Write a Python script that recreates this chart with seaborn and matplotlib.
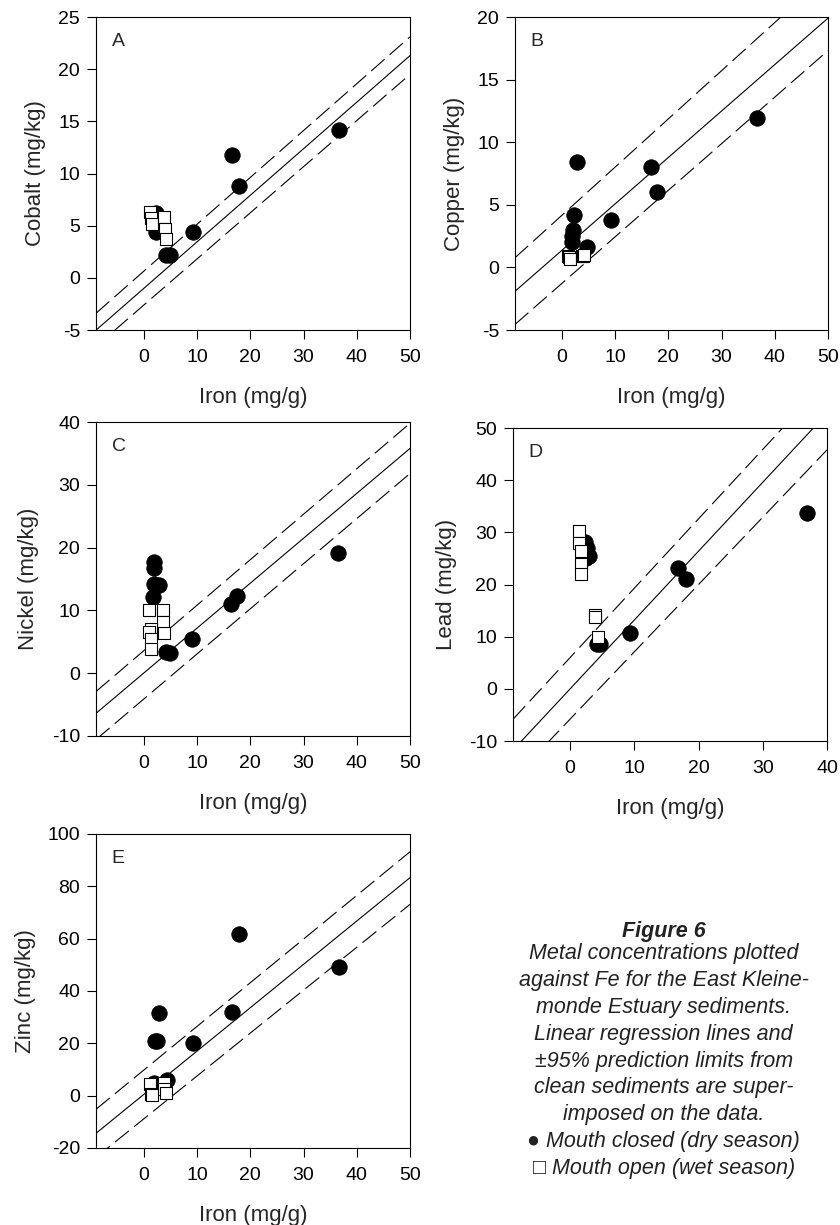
import numpy as np
import seaborn as sns
import matplotlib
matplotlib.use("Agg")
import matplotlib.pyplot as plt

# Daten: Fe (mg/g) und Metall (mg/kg), geschlossen (Trockenzeit) / offen (Regenzeit)
co_closed_fe = [2.2, 2.0, 2.2, 4.1, 4.9, 9.3, 16.6, 17.8, 36.6]
co_closed = [6.2, 5.4, 4.4, 2.2, 2.2, 4.4, 11.8, 8.8, 14.2]
co_open_fe = [1.2, 1.3, 1.5, 3.7, 3.9, 4.1]
co_open = [6.3, 5.7, 5.2, 5.8, 4.7, 3.7]

cu_closed_fe = [36.7, 16.7, 17.9, 9.3, 2.9, 2.3, 2.1, 2.0, 1.9, 4.7]
cu_closed = [11.9, 8.0, 6.0, 3.8, 8.4, 4.15, 3.0, 2.5, 2.0, 1.6]
cu_open_fe = [1.2, 1.3, 1.5, 3.7, 4.0, 4.1]
cu_open = [0.9, 0.8, 0.7, 0.9, 0.9, 1.0]

ni_closed_fe = [1.9, 1.9, 1.9, 2.9, 1.75, 4.1, 4.9, 9.1, 16.3, 17.5, 36.5]
ni_closed = [17.7, 16.7, 14.2, 14.0, 12.2, 3.3, 3.2, 5.4, 11.0, 12.3, 19.1]
ni_open_fe = [1.0, 3.6, 3.5, 1.25, 1.0, 3.8, 1.25, 1.25]
ni_open = [10.1, 10.0, 8.2, 7.1, 6.6, 6.45, 5.4, 3.8]

pb_closed_fe = [2.3, 2.6, 3.0, 2.5, 4.2, 4.7, 9.4, 16.8, 18.0, 36.9]
pb_closed = [28.2, 27.0, 25.5, 25.0, 8.6, 8.5, 10.7, 23.1, 21.1, 33.7]
pb_open_fe = [1.35, 1.4, 1.7, 1.7, 1.7, 3.85, 3.9, 4.3]
pb_open = [30.3, 27.9, 26.5, 23.9, 22.0, 14.2, 13.7, 9.9]

zn_closed_fe = [17.8, 36.6, 2.9, 16.6, 2.06, 2.4, 9.25, 1.9, 4.4]
zn_closed = [61.8, 49.1, 31.7, 32.1, 20.9, 20.9, 20.3, 5.0, 6.0]
zn_open_fe = [1.2, 1.4, 1.5, 3.7, 3.8, 4.1]
zn_open = [4.5, 0.5, 0.3, 5.0, 2.5, 1.0]

# Regression (Achsenabschnitt, Steigung): Mitte, obere / untere 95%-Grenze
co_lines = [(-1.0, 0.446), (0.65, 0.449), (-2.6, 0.442)]
cu_lines = [(1.36, 0.371), (4.16, 0.385), (-1.28, 0.372)]
ni_lines = [(0.04, 0.715), (3.6, 0.724), (-4.1, 0.718)]
pb_lines = [(0.0, 1.32), (6.0, 1.33), (-5.8, 1.29)]
zn_lines = [(0.5, 1.656), (9.8, 1.668), (-8.85, 1.639)]

panels = [
    ("A", "Cobalt (mg/kg)", co_closed_fe, co_closed, co_open_fe, co_open, co_lines,
     (-9, 50), np.arange(0, 51, 10), (-5, 25), np.arange(-5, 26, 5)),
    ("B", "Copper (mg/kg)", cu_closed_fe, cu_closed, cu_open_fe, cu_open, cu_lines,
     (-8.8, 50), np.arange(0, 51, 10), (-5, 20), np.arange(-5, 21, 5)),
    ("C", "Nickel (mg/kg)", ni_closed_fe, ni_closed, ni_open_fe, ni_open, ni_lines,
     (-9, 50), np.arange(0, 51, 10), (-10, 40), np.arange(-10, 41, 10)),
    ("D", "Lead (mg/kg)", pb_closed_fe, pb_closed, pb_open_fe, pb_open, pb_lines,
     (-8.9, 40), np.arange(0, 41, 10), (-10, 50), np.arange(-10, 51, 10)),
    ("E", "Zinc (mg/kg)", zn_closed_fe, zn_closed, zn_open_fe, zn_open, zn_lines,
     (-9, 50), np.arange(0, 51, 10), (-20, 100), np.arange(-20, 101, 20)),
]

# Achsenpositionen [links, unten, Breite, Hoehe] in Figurenanteilen
positions = [
    [0.1143, 0.7306, 0.3738, 0.2555],
    [0.6131, 0.7306, 0.3726, 0.2555],
    [0.1143, 0.3992, 0.3738, 0.2563],
    [0.6107, 0.3951, 0.3738, 0.2555],
    [0.1143, 0.0629, 0.3738, 0.2563],
]
ylabel_x = [-0.158, -0.16, -0.183, -0.178, -0.19]

sns.set_style("white")
plt.rcParams['font.family'] = ['Liberation Sans', 'DejaVu Sans']
plt.rcParams['axes.unicode_minus'] = False

fig = plt.figure(figsize=(8.4, 12.25), dpi=100)

for pos, lx, (letter, ylabel, cfe, cval, ofe, oval, lines, xlim, xticks, ylim, yticks) in zip(positions, ylabel_x, panels):
    ax = fig.add_axes(pos)
    xs = np.array(xlim)
    for (b0, b1), ls in zip(lines, ['-', (0, (16, 6)), (0, (16, 6))]):
        sns.lineplot(x=xs, y=b0 + b1 * xs, ax=ax, color='black', lw=0.8, linestyle=ls)
    sns.scatterplot(x=cfe, y=cval, ax=ax, marker='o', s=125, color='black',
                    edgecolor='black', linewidth=0.5, zorder=3)
    sns.scatterplot(x=ofe, y=oval, ax=ax, marker='s', s=85, color='white',
                    edgecolor='black', linewidth=0.8, zorder=4)
    ax.set_xlim(xlim)
    ax.set_ylim(ylim)
    ax.set_xticks(xticks)
    ax.set_yticks(yticks)
    ax.tick_params(direction='out', length=6.5, width=0.8, labelsize=14,
                   bottom=True, left=True, top=False, right=False, colors='black')
    ax.tick_params(axis='x', pad=7)
    ax.tick_params(axis='y', pad=5)
    for sp in ax.spines.values():
        sp.set_color('black')
        sp.set_linewidth(0.8)
    ax.set_xlabel("Iron (mg/g)", fontsize=16)
    ax.set_ylabel(ylabel, fontsize=16)
    ax.xaxis.set_label_coords(0.5, -0.183)
    ax.yaxis.set_label_coords(lx, 0.5)
    ax.text(0.05, 0.95, letter, transform=ax.transAxes, ha='left', va='top', fontsize=14)

# Bildunterschrift
fig.text(0.790, 1 - 932 / 1225, "Figure 6", ha='center', va='center',
         fontsize=15.5, fontweight='bold', fontstyle='italic', color='#222222')
caption = ("Metal concentrations plotted\n"
           "against Fe for the East Kleine-\n"
           "monde Estuary sediments.\n"
           "Linear regression lines and\n"
           "\u00b195% prediction limits from\n"
           "clean sediments are super-\n"
           "imposed on the data.\n"
           "\u25cf Mouth closed (dry season)\n"
           "\u25a1 Mouth open (wet season)")
fig.text(0.790, 1 - 1061 / 1225, caption, ha='center', va='center', fontsize=15.5,
         fontstyle='italic', color='#222222', linespacing=1.36)

fig.savefig("out.png", dpi=100)
